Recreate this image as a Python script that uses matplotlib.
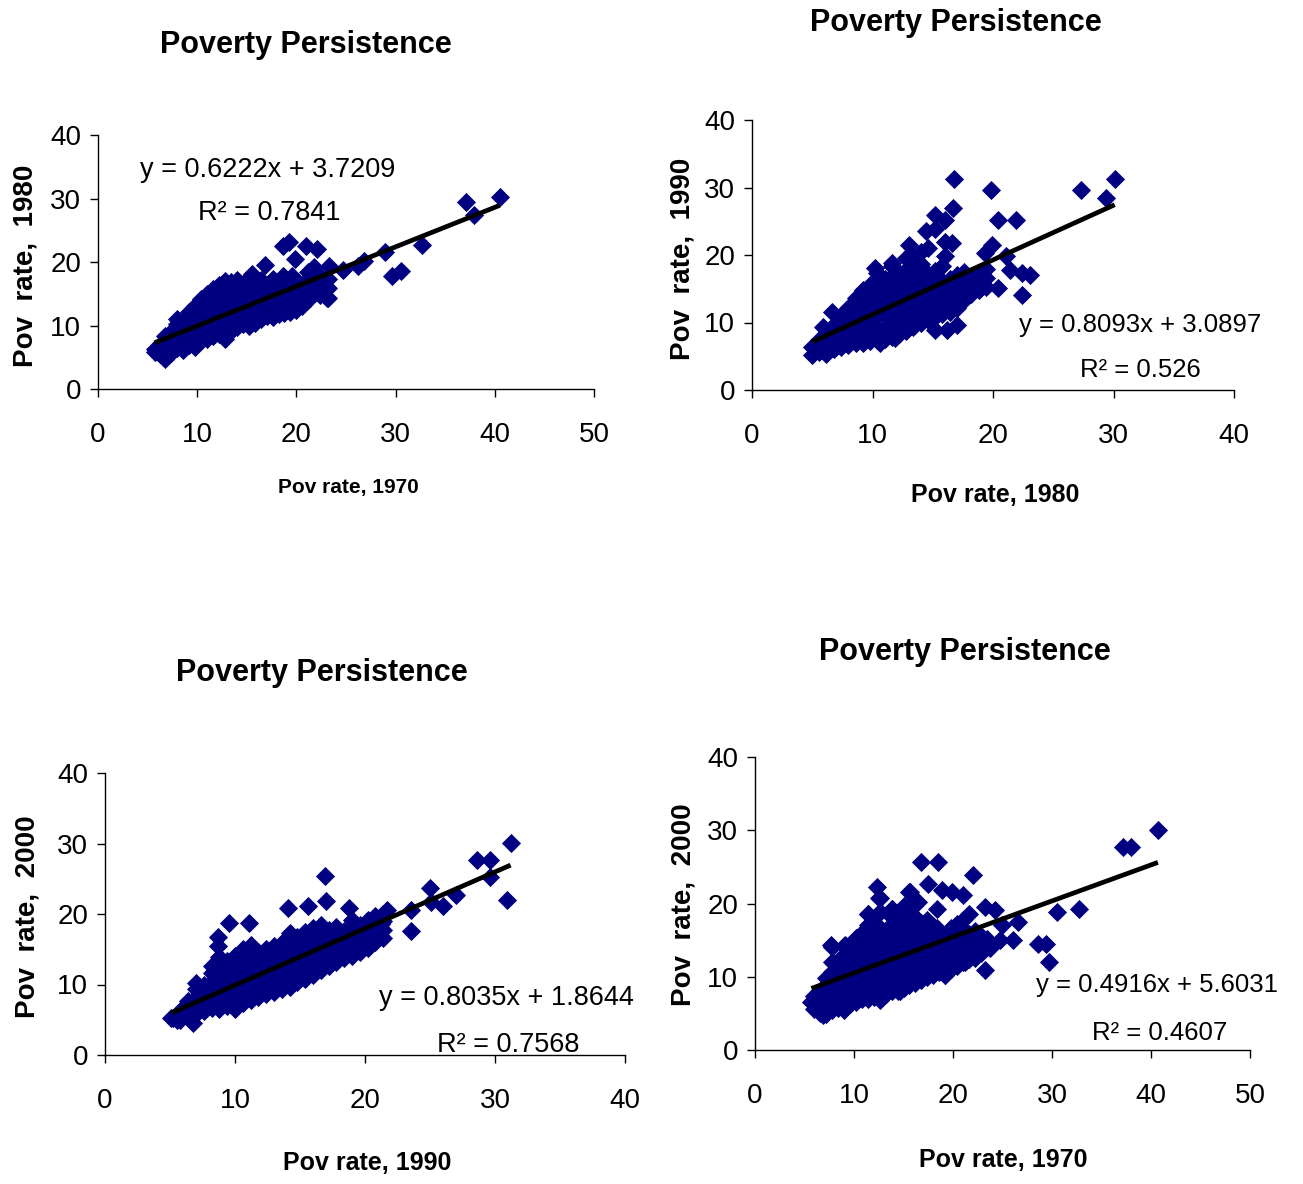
import numpy as np
from matplotlib import pyplot as plt
from matplotlib import font_manager

W, H = 1303, 1184

## fonts: a narrow sans if we have one (the original is squeezed Arial)
names = set(f.name for f in font_manager.fontManager.ttflist)
NARROW = 'Liberation Sans Narrow' if 'Liberation Sans Narrow' in names else 'Liberation Sans'
plt.rcParams['font.family'] = [NARROW, 'DejaVu Sans']

NAVY = '#000080'

### DATA ###
# panel 1: 1970 -> 1980
p1_col_x = [5.7, 6.3, 6.8, 7.4, 8.0, 8.6, 9.2, 9.8, 10.4, 11.0, 11.6, 12.2, 12.8, 13.4, 14.0,
            14.6, 15.2, 15.8, 16.4, 17.0, 17.6, 18.2, 18.8, 19.4, 20.0, 20.6, 21.2, 21.8, 22.4, 23.2]
p1_col_y = [[6.3, 5.8], [7.0, 5.5, 6.2], [4.7, 6.0, 7.4, 8.3], [5.6, 6.9, 8.1, 9.0],
            [6.4, 7.5, 8.8, 10.2, 11.0], [6.2, 7.8, 9.3, 10.6], [6.9, 8.4, 9.9, 11.4, 12.1],
            [6.6, 7.6, 9.0, 10.5, 12.3, 13.0], [7.7, 8.9, 10.3, 11.8, 13.4, 14.2],
            [7.9, 9.4, 11.0, 12.5, 14.0, 15.0], [8.3, 9.8, 11.3, 12.9, 14.6, 15.8],
            [8.6, 10.2, 11.8, 13.6, 15.1, 16.4], [7.9, 9.5, 11.2, 12.7, 14.4, 16.0, 17.0],
            [9.1, 10.8, 12.3, 13.9, 15.5, 16.8], [9.8, 11.3, 12.8, 14.5, 16.1, 17.2],
            [10.2, 11.9, 13.4, 15.0, 16.6], [9.9, 11.6, 12.9, 14.2, 15.8, 17.5],
            [10.4, 12.2, 13.7, 15.3, 16.9], [11.0, 12.8, 14.4, 16.0, 17.2],
            [11.5, 13.2, 14.8, 16.4], [11.3, 12.7, 14.2, 15.9, 17.4], [11.8, 13.4, 15.0, 16.5],
            [11.9, 13.1, 14.6, 16.2, 17.6], [12.2, 13.8, 15.3, 16.9], [12.4, 13.9, 15.6, 17.0],
            [13.1, 14.7, 16.3], [14.0, 15.5, 17.1, 18.5], [15.1, 16.4, 17.9, 19.2],
            [14.8, 16.2, 17.8], [14.4, 15.9, 17.4]]
p1_out_x = [40.5, 37.1, 37.9, 32.7, 29.6, 30.5, 28.9, 26.8, 26.2, 19.3, 18.6, 19.9, 21.0, 22.1,
            16.8, 15.5, 23.3, 24.7, 23.1, 22.0, 18.6, 19.6]
p1_out_y = [30.2, 29.4, 27.4, 22.6, 17.8, 18.6, 21.5, 20.2, 19.4, 23.2, 22.5, 20.4, 22.5, 22.0,
            19.6, 18.1, 19.4, 18.8, 14.4, 15.2, 17.8, 17.8]

# panel 2: 1980 -> 1990
p2_col_x = [5.0, 5.6, 6.2, 6.8, 7.4, 8.0, 8.6, 9.2, 9.8, 10.4, 11.0, 11.6, 12.2, 12.8, 13.4,
            14.0, 14.6, 15.2, 15.8, 16.4, 17.0, 17.6, 18.2, 18.8, 19.4]
p2_col_y = [[5.2, 6.3], [5.6, 6.8, 7.4], [5.8, 6.6, 7.7, 8.6], [6.1, 7.2, 8.3, 9.6],
            [6.4, 7.6, 8.9, 10.2, 11.0], [6.7, 8.0, 9.4, 10.8, 12.1],
            [6.9, 8.3, 9.8, 11.4, 12.9, 13.6], [7.0, 8.6, 10.1, 11.8, 13.3, 14.8],
            [7.2, 8.8, 10.5, 12.2, 13.9, 15.6], [7.4, 9.1, 10.9, 12.6, 14.3, 16.0, 17.3],
            [7.6, 9.4, 11.2, 13.0, 14.7, 16.4], [7.9, 9.7, 11.5, 13.3, 15.1, 16.9, 18.4],
            [8.3, 10.1, 11.9, 13.7, 15.5, 17.3], [8.8, 10.5, 12.3, 14.1, 15.9, 17.8, 19.6],
            [9.4, 11.0, 12.7, 14.5, 16.3, 18.2], [9.9, 11.5, 13.1, 14.9, 16.8, 18.7, 20.4],
            [10.4, 12.0, 13.6, 15.3, 17.2, 21.0], [10.8, 12.4, 14.0, 15.7, 17.6],
            [11.2, 12.9, 14.5, 16.1, 18.3], [11.6, 13.3, 14.9, 16.5], [12.1, 13.8, 15.4, 17.0],
            [13.3, 14.6, 16.0, 17.5], [14.2, 15.5, 16.9], [14.8, 16.1, 17.4], [15.2, 16.6, 18.0]]
p2_out_x = [30.1, 27.3, 29.4, 16.8, 19.8, 16.7, 20.4, 21.9, 15.2, 16.0, 14.4, 15.2, 16.0, 16.6,
            19.9, 19.3, 21.1, 21.4, 22.4, 23.1, 20.4, 22.4, 13.0, 10.2, 11.6, 13.3, 16.0, 6.6,
            5.9, 6.1, 15.2, 16.2, 17.0, 11.9, 10.6]
p2_out_y = [31.2, 29.7, 28.5, 31.2, 29.7, 27.0, 25.2, 25.2, 26.0, 25.2, 23.5, 23.8, 22.0, 21.8,
            21.5, 20.3, 19.8, 17.8, 17.3, 17.1, 15.1, 14.1, 21.5, 18.1, 18.8, 19.8, 19.8, 11.6,
            9.4, 5.4, 8.9, 8.9, 9.7, 7.7, 6.9]

# panel 3: 1990 -> 2000
p3_col_x = [5.2, 5.8, 6.4, 7.0, 7.6, 8.2, 8.8, 9.4, 10.0, 10.6, 11.2, 11.8, 12.4, 13.0, 13.6,
            14.2, 14.8, 15.4, 16.0, 16.6, 17.2, 17.8, 18.4, 19.0, 19.6, 20.2, 20.8, 21.4]
p3_col_y = [[5.3], [5.0, 6.3], [5.4, 6.6, 7.6], [5.8, 7.0, 8.2, 9.3], [6.2, 7.4, 8.7, 9.9],
            [6.6, 7.8, 9.1, 10.4, 11.6, 12.6], [6.5, 7.6, 8.9, 10.2, 11.5, 12.8, 13.9],
            [6.9, 8.2, 9.5, 10.8, 12.1, 13.3], [6.5, 7.8, 9.0, 10.3, 11.6, 12.9, 14.1],
            [7.4, 8.7, 10.0, 11.3, 12.6, 13.9, 15.0], [7.8, 9.1, 10.4, 11.7, 13.0, 14.3, 15.6],
            [8.2, 9.5, 10.8, 12.1, 13.4, 14.6], [8.6, 9.9, 11.2, 12.5, 13.8, 15.0],
            [9.0, 10.3, 11.6, 12.9, 14.2, 15.5], [9.4, 10.7, 12.0, 13.3, 14.6, 15.9],
            [9.6, 11.1, 12.4, 13.7, 15.0, 16.4, 17.3], [10.3, 11.6, 12.9, 14.2, 15.5, 16.8],
            [10.8, 12.1, 13.4, 14.7, 16.0, 17.4], [11.4, 12.7, 14.0, 15.3, 16.6, 18.0],
            [12.0, 13.3, 14.6, 15.9, 17.2, 18.5], [12.6, 13.9, 15.2, 16.5, 17.8],
            [13.2, 14.5, 15.8, 17.1, 18.2], [13.7, 15.0, 16.3, 17.6],
            [14.1, 15.4, 16.7, 18.0, 19.1], [14.6, 15.9, 17.2, 18.5], [15.2, 16.5, 17.8, 19.2],
            [16.0, 17.2, 18.4, 19.7], [16.6, 17.8, 19.0, 20.0]]
p3_out_x = [31.2, 28.6, 29.6, 29.6, 30.9, 25.0, 27.0, 26.0, 25.1, 23.5, 23.5, 16.9, 17.0, 14.1,
            15.6, 18.8, 9.5, 11.1, 8.7, 8.7, 7.0, 5.1, 5.5, 6.8, 21.2, 21.7]
p3_out_y = [30.1, 27.6, 27.6, 25.2, 22.0, 23.7, 22.7, 21.2, 21.7, 20.5, 17.6, 25.4, 21.8, 20.9,
            21.2, 20.9, 18.7, 18.7, 16.7, 15.4, 10.2, 5.2, 4.9, 4.6, 18.6, 20.5]

# panel 4: 1970 -> 2000
p4_col_x = [6.0, 6.6, 7.2, 7.8, 8.4, 9.0, 9.6, 10.2, 10.8, 11.4, 12.0, 12.6, 13.2, 13.8, 14.4,
            15.0, 15.6, 16.2, 16.8, 17.4, 18.0, 18.6, 19.2, 19.8, 20.4, 21.0, 21.6, 22.2, 22.8, 23.4]
p4_col_y = [[5.6, 6.6, 7.4], [5.0, 6.0, 7.0, 8.0], [4.9, 5.9, 6.9, 7.9, 8.9, 9.8],
            [5.4, 6.4, 7.4, 8.4, 9.4, 10.6, 12.0, 14.0], [5.7, 6.7, 7.7, 8.7, 9.7, 10.8, 12.1],
            [5.5, 6.5, 7.5, 8.5, 9.5, 10.6, 11.7, 13.0, 14.2],
            [6.3, 7.3, 8.3, 9.3, 10.3, 11.4, 12.5],
            [6.6, 7.6, 8.6, 9.6, 10.6, 11.7, 12.9, 14.0, 15.3],
            [7.0, 8.0, 9.0, 10.0, 11.1, 12.2, 13.4, 14.6, 16.0],
            [6.9, 7.9, 8.9, 9.9, 11.0, 12.1, 13.3, 14.5, 15.7, 17.0, 18.6],
            [7.3, 8.3, 9.3, 10.3, 11.4, 12.5, 13.6, 14.8, 16.0, 17.3],
            [6.8, 7.8, 8.8, 9.8, 10.9, 12.0, 13.1, 14.3, 15.5, 16.7, 18.9, 20.7],
            [7.6, 8.6, 9.6, 10.7, 11.8, 12.9, 14.0, 15.2, 16.4],
            [8.1, 9.1, 10.1, 11.2, 12.3, 13.4, 14.5, 15.7, 16.9, 18.2, 19.3],
            [8.0, 9.0, 10.0, 11.1, 12.2, 13.3, 14.4, 15.6, 16.8, 18.0],
            [8.4, 9.4, 10.4, 11.5, 12.6, 13.7, 14.8, 16.0, 17.2, 18.5, 19.7],
            [8.9, 9.9, 10.9, 12.0, 13.1, 14.2, 15.3, 16.5, 17.7, 19.0, 21.6],
            [9.2, 10.2, 11.3, 12.4, 13.5, 14.6, 15.8, 17.0, 18.2, 20.4],
            [9.6, 10.6, 11.7, 12.8, 13.9, 15.0, 16.2, 17.4],
            [9.9, 10.9, 12.0, 13.1, 14.2, 15.3, 16.5, 17.8],
            [10.3, 11.3, 12.4, 13.5, 14.6, 15.7, 16.9], [10.6, 11.7, 12.8, 13.9, 15.0, 16.1],
            [10.2, 11.2, 12.3, 13.4, 14.5, 15.6], [11.0, 12.1, 13.2, 14.3, 15.4, 16.6],
            [11.5, 12.6, 13.7, 14.8, 16.0, 17.2], [12.0, 13.1, 14.2, 15.3, 16.5, 17.8],
            [12.4, 13.5, 14.6, 15.8, 18.6], [12.6, 13.8, 15.0, 16.3], [13.2, 14.4, 15.6],
            [14.0, 15.1]]
p4_out_x = [40.7, 37.2, 38.0, 32.7, 30.5, 28.6, 29.4, 29.7, 26.1, 26.6, 24.9, 24.7, 23.7, 23.2,
            24.2, 23.2, 22.0, 21.0, 19.9, 18.5, 16.8, 17.5, 18.9, 18.4, 18.4, 16.7, 12.3, 12.5,
            11.4, 12.6, 13.8, 15.7, 16.5, 7.7, 9.1, 5.7, 6.9, 12.9, 14.6, 19.2, 21.2]
p4_out_y = [30.0, 27.7, 27.7, 19.3, 18.9, 14.5, 14.5, 12.0, 15.0, 17.5, 17.0, 15.0, 13.9, 10.9,
            19.1, 19.5, 23.9, 21.1, 21.6, 25.6, 25.6, 22.7, 21.8, 19.3, 16.6, 16.1, 22.3, 20.7,
            18.6, 18.9, 19.3, 21.6, 20.2, 14.3, 14.3, 6.6, 4.8, 7.5, 8.0, 10.2, 12.0]

slopes = [0.6222, 0.8093, 0.8035, 0.4916]
intercepts = [3.7209, 3.0897, 1.8644, 5.6031]
r2_text = ['0.7841', '0.526', '0.7568', '0.4607']
x_years = ['1970', '1980', '1990', '1970']
y_years = ['1980', '1990', '2000', '2000']
x_max = [50, 40, 40, 50]

### LAYOUT (pixel positions in the reference) ###
boxes = [(98, 135, 594, 389), (752, 120, 1234, 390), (105, 773, 625, 1055), (755, 757, 1250, 1050)]
title_pos = [(306, 45), (956, 23), (322, 673), (965, 652)]
xlab_pos = [(348, 487), (995, 495), (367, 1163), (1003, 1160)]
xlab_size = [15, 18, 18, 18]
ylab_pos = [(26, 266), (682, 259), (28, 917), (684, 905)]
eq_pos = [(268, 170), (1140, 325), (506, 998), (1157, 985)]
r2_pos = [(269, 213), (1140, 370), (508, 1045), (1160, 1033)]
eq_size = [19.5, 18.5, 19.5, 18.5]


def fx(px):
    return px / W


def fy(py):
    return 1 - py / H


def expand(col_x, col_y, out_x, out_y):
    xs, ys = [], []
    for cx, cys in zip(col_x, col_y):
        for cy in cys:
            xs.append(cx)
            ys.append(cy)
    return np.array(xs + out_x), np.array(ys + out_y)


panels = [expand(p1_col_x, p1_col_y, p1_out_x, p1_out_y),
          expand(p2_col_x, p2_col_y, p2_out_x, p2_out_y),
          expand(p3_col_x, p3_col_y, p3_out_x, p3_out_y),
          expand(p4_col_x, p4_col_y, p4_out_x, p4_out_y)]

fig = plt.figure(figsize=(W / 100, H / 100), dpi=100)

for i, (xs, ys) in enumerate(panels):
    l, t, r, b = boxes[i]
    ax = fig.add_axes([fx(l), fy(b), (r - l) / W, (b - t) / H])
    ax.scatter(xs, ys, marker='D', s=95, color=NAVY, linewidths=0, zorder=2)
    lx = np.array([xs.min(), xs.max()])
    ax.plot(lx, slopes[i] * lx + intercepts[i], color='black', lw=3.4, zorder=3,
            solid_capstyle='butt')
    ax.set_xlim(0, x_max[i])
    ax.set_ylim(0, 40)
    ax.set_xticks(np.arange(0, x_max[i] + 1, 10))
    ax.set_yticks([0, 10, 20, 30, 40])
    for s in ['top', 'right']:
        ax.spines[s].set_visible(False)
    for s in ['left', 'bottom']:
        ax.spines[s].set_linewidth(1.0)
    ax.tick_params(direction='out', length=6, width=1, labelsize=20)
    ax.tick_params(axis='x', pad=18)
    ax.tick_params(axis='y', pad=6)

    fig.text(fx(title_pos[i][0]), fy(title_pos[i][1]), 'Poverty Persistence',
             ha='center', va='center', fontsize=22, fontweight='bold')
    fig.text(fx(xlab_pos[i][0]), fy(xlab_pos[i][1]), 'Pov rate, ' + x_years[i],
             ha='center', va='center', fontsize=xlab_size[i], fontweight='bold')
    fig.text(fx(ylab_pos[i][0]), fy(ylab_pos[i][1]), 'Pov  rate,  ' + y_years[i],
             ha='center', va='center', fontsize=20, fontweight='bold', rotation=90,
             family=['Liberation Sans', 'DejaVu Sans'])
    fig.text(fx(eq_pos[i][0]), fy(eq_pos[i][1]),
             'y = %sx + %s' % (slopes[i], intercepts[i]),
             ha='center', va='center', fontsize=eq_size[i])
    fig.text(fx(r2_pos[i][0]), fy(r2_pos[i][1]), 'R² = ' + r2_text[i],
             ha='center', va='center', fontsize=eq_size[i])

plt.savefig('out.png', dpi=100)
